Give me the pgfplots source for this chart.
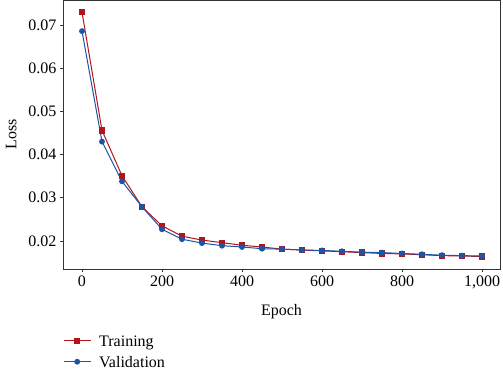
\documentclass[border=0pt]{standalone}
\usepackage{pgfplots}
\pgfplotsset{compat=1.18}
\usepackage{fontspec}
\setmainfont{Liberation Serif}
\definecolor{trainred}{HTML}{B3141C}
\definecolor{valblue}{HTML}{1B55A5}
\begin{document}
\begin{tikzpicture}[font=\fontsize{16}{19}\selectfont]
\useasboundingbox (-63pt,-101pt) rectangle (440pt,269pt);
\begin{axis}[
  at={(0pt,0pt)}, anchor=south west,
  scale only axis, width=437pt, height=269pt,
  xmin=-47.5, xmax=1045, ymin=0.0135, ymax=0.0758,
  xtick={0,200,...,1000},
  ytick={0.02,0.03,0.04,0.05,0.06,0.07},
  tick align=outside, tick pos=left,
  major tick length=3pt,
  /pgf/number format/assume math mode=true,
  xticklabel style={/pgf/number format/1000 sep={,}},
  yticklabel style={/pgf/number format/.cd, fixed, fixed zerofill, precision=2},
  scaled y ticks=false,
  xlabel={Epoch}, ylabel={Loss},
  xlabel style={yshift=-9pt},
  ylabel style={yshift=5pt},
  axis line style={line width=0.8pt, black!80},
  tick style={black!80, line width=0.8pt},
  legend style={at={(axis description cs:0,-0.238)}, anchor=north west,
    draw=none, fill=none, inner sep=0pt, row sep=6pt,
    nodes={inner sep=2pt, text depth=0pt, text height=11pt},
    cells={anchor=west},
    /tikz/every odd column/.append style={column sep=6pt}},
  legend cell align=left,
  legend image code/.code={
    \draw[mark repeat=2,mark phase=2,#1] plot coordinates {(0pt,0pt) (13.5pt,0pt) (27pt,0pt)};},
]
\addplot[trainred, line width=1pt, mark=square*, mark size=2.6pt] coordinates {
(0,0.0730) (50,0.0456) (100,0.0351) (150,0.0279) (200,0.0235) (250,0.0211)
(300,0.0202) (350,0.0196) (400,0.0190) (450,0.0186) (500,0.0181) (550,0.0179)
(600,0.0177) (650,0.0175) (700,0.0173) (750,0.0171) (800,0.0170) (850,0.0168)
(900,0.0166) (950,0.0165) (1000,0.0164)};
\addlegendentry{Training}
\addplot[valblue, line width=1pt, mark=*, mark size=2.4pt] coordinates {
(0,0.0686) (50,0.0430) (100,0.0338) (150,0.0279) (200,0.0227) (250,0.0204)
(300,0.0195) (350,0.0189) (400,0.0186) (450,0.0182) (500,0.0181) (550,0.0179)
(600,0.0178) (650,0.0176) (700,0.0174) (750,0.0173) (800,0.0171) (850,0.0169)
(900,0.0167) (950,0.0166) (1000,0.0165)};
\addlegendentry{Validation}
\end{axis}
\end{tikzpicture}
\end{document}
